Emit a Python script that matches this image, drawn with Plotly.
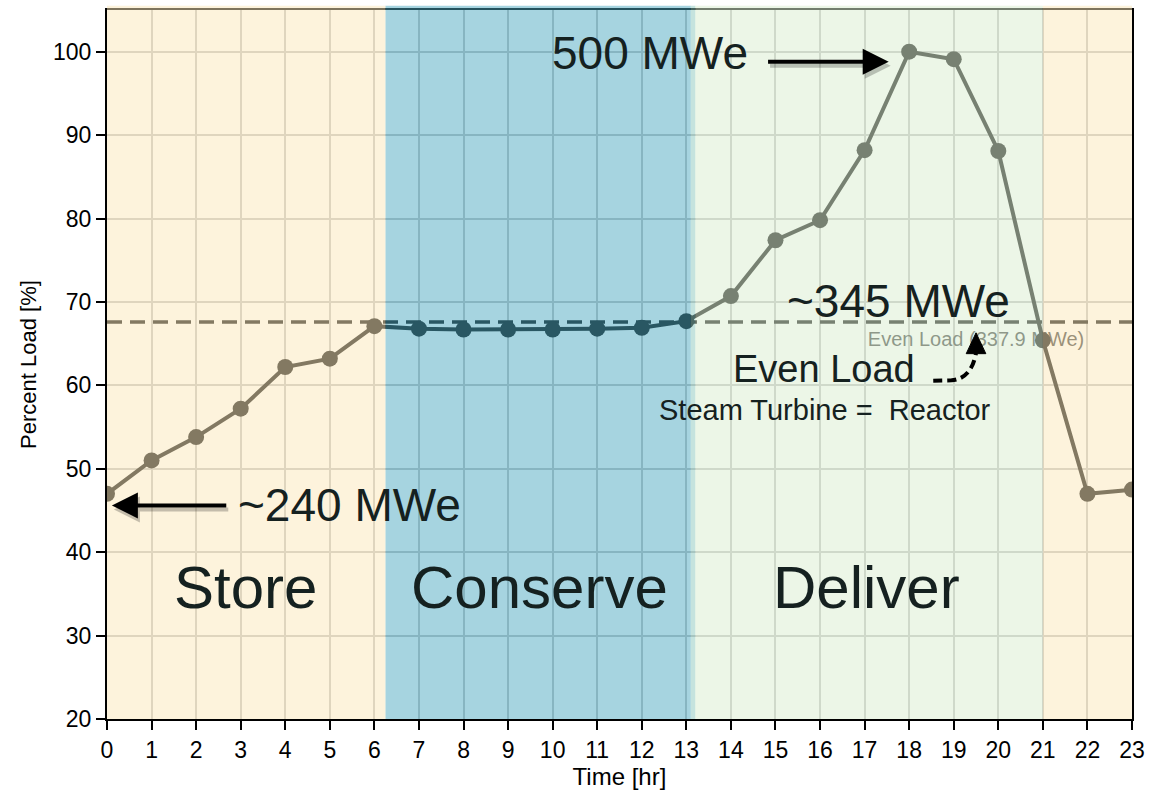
import plotly.graph_objects as go

# ---- data ----
hours = list(range(24))
percent_load = [47.0, 51.0, 53.8, 57.2, 62.2, 63.2, 67.1, 66.8, 66.7, 66.7, 66.7, 66.8,
                66.9, 67.7, 70.7, 77.4, 79.8, 88.2, 100.0, 99.1, 88.1, 65.4, 47.0, 47.5]
even_load = 67.6
even_load_label = "Even Load (337.9 MWe)"

phase_names = ["Store", "Conserve", "Deliver"]
phase_starts = [0, 6.25, 13.2, 21]
phase_ends = [6.25, 13.1, 21, 23]
phase_colors = ["rgba(251,232,185,0.5)", "rgba(73,167,192,0.49)",
                "rgba(219,238,210,0.525)", "rgba(251,232,185,0.5)"]
strip = [13.1, 13.2]
strip_color = "rgba(140,200,190,0.5)"

x_ticks = list(range(24))
y_ticks = list(range(20, 101, 10))

FONT = "Liberation Sans, Arial, Helvetica, sans-serif"
TXT = "#152120"
DARK = "#0a0a0a"

fig = go.Figure()

# small label (under the bands, like the original)
fig.add_trace(go.Scatter(
    x=[19.5], y=[65.3], mode="text", text=[even_load_label],
    textfont=dict(family=FONT, size=20, color="#3a3a3a"),
    hoverinfo="skip", showlegend=False))

# even load dashed line
fig.add_trace(go.Scatter(
    x=[hours[0], hours[-1]], y=[even_load, even_load], mode="lines",
    line=dict(color=DARK, width=3.5, dash="15px,8px"),
    hoverinfo="skip", showlegend=False))

# load curve
fig.add_trace(go.Scatter(
    x=hours, y=percent_load, mode="lines+markers",
    line=dict(color=DARK, width=4),
    marker=dict(color=DARK, size=16),
    cliponaxis=True, showlegend=False))

# phase bands drawn above data
for x0, x1, c in zip(phase_starts, phase_ends, phase_colors):
    fig.add_shape(type="rect", xref="x", yref="paper", x0=x0, x1=x1, y0=0, y1=1.006,
                  fillcolor=c, line=dict(width=0), layer="above")
fig.add_shape(type="rect", xref="x", yref="paper", x0=strip[0], x1=strip[1], y0=0, y1=1.006,
              fillcolor=strip_color, line=dict(width=0), layer="above")

# curved dashed arrow for "Even Load"
fig.add_shape(type="path", xref="x", yref="y",
              path="M 18.54,60.55 L 18.95,60.6 Q 19.4,60.8 19.5,63.9",
              line=dict(color="black", width=4, dash="9px,5px"), layer="above")
fig.add_shape(type="path", xref="x", yref="y",
              path="M 19.28,63.8 L 19.72,63.8 L 19.5,66.3 Z",
              fillcolor="black", line=dict(color="black", width=1), layer="above")

annotations = []
# phase labels
for name, xc in zip(phase_names, [3.1, 9.7, 17.04]):
    annotations.append(dict(x=xc, y=35.8, xref="x", yref="y", text=name, showarrow=False,
                            font=dict(family=FONT, size=60, color=TXT)))

big = dict(family=FONT, size=46, color=TXT)
annotations += [
    dict(x=12.18, y=99.8, xref="x", yref="y", text="500 MWe", showarrow=False, font=big),
    dict(x=17.76, y=70.1, xref="x", yref="y", text="~345 MWe", showarrow=False, font=big),
    dict(x=5.44, y=45.6, xref="x", yref="y", text="~240 MWe", showarrow=False, font=big),
    dict(x=16.08, y=62.0, xref="x", yref="y", text="Even Load", showarrow=False,
         font=dict(family=FONT, size=38, color=TXT)),
    dict(x=16.1, y=57.0, xref="x", yref="y", text="Steam Turbine =  Reactor", showarrow=False,
         font=dict(family=FONT, size=29, color=TXT)),
]

# arrows (with soft shadow)
for tip, tail in [((17.54, 98.8), (14.8, 98.8)), ((0.11, 45.6), (2.71, 45.6))]:
    for col, dx, dy in [("rgba(0,0,0,0.22)", 2, -4), ("black", 0, 0)]:
        annotations.append(dict(x=tip[0], y=tip[1], ax=tail[0], ay=tail[1],
                                xref="x", yref="y", axref="x", ayref="y", text="",
                                showarrow=True, arrowhead=2, arrowsize=1.3, arrowwidth=4,
                                arrowcolor=col, xshift=dx, yshift=dy))

fig.update_layout(
    width=1153, height=792,
    margin=dict(l=107, r=18, t=8, b=73),
    paper_bgcolor="white", plot_bgcolor="white",
    font=dict(family=FONT, color="black"),
    annotations=annotations,
    showlegend=False,
)
fig.update_xaxes(
    range=[0, 23], tickvals=x_ticks, ticktext=[str(v) for v in x_ticks],
    showgrid=True, gridcolor="#c2c2c2", gridwidth=2,
    showline=True, linecolor="black", linewidth=2, mirror=True,
    ticks="outside", ticklen=9, tickwidth=2, tickcolor="black",
    tickfont=dict(family=FONT, size=23, color="black"),
    title=dict(text="Time [hr]", font=dict(family=FONT, size=24, color="black"), standoff=4),
    zeroline=False,
)
fig.update_yaxes(
    range=[20, 105], tickvals=y_ticks, ticktext=[str(v) for v in y_ticks],
    showgrid=True, gridcolor="#c2c2c2", gridwidth=2,
    showline=True, linecolor="black", linewidth=2, mirror=True,
    ticks="outside", ticklen=9, tickwidth=2, tickcolor="black",
    tickfont=dict(family=FONT, size=23, color="black"),
    title=dict(text="Percent Load [%]", font=dict(family=FONT, size=22, color="black"), standoff=10),
    zeroline=False,
)

fig.write_html("out.html",
               config={"displayModeBar": False},
               post_script="document.body.style.margin='0';document.body.style.overflow='hidden';")
